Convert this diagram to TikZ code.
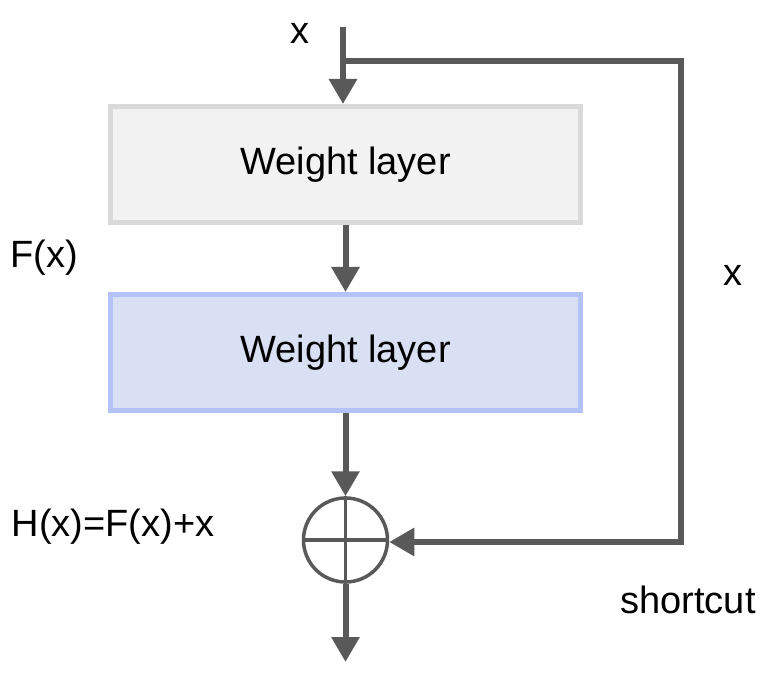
\documentclass[tikz,border=0pt]{standalone}
\usepackage{fontspec}
\setmainfont{Liberation Sans}
\usetikzlibrary{arrows.meta}
\definecolor{linegray}{HTML}{595959}
\definecolor{box1fill}{HTML}{F2F2F2}
\definecolor{box1line}{HTML}{D9D9D9}
\definecolor{box2fill}{HTML}{DAE0F3}
\definecolor{box2line}{HTML}{B4C2FA}
\tikzset{
  layerbox/.style={rectangle, line width=5pt, minimum width=470pt, minimum height=116pt, inner sep=0pt, font=\fontsize{38}{40}\selectfont},
  lbl/.style={inner sep=0pt, font=\fontsize{38}{40}\selectfont, text=black},
  conn/.style={draw=linegray, line width=6pt, -{Triangle[length=25pt,width=27pt]}},
  plainconn/.style={draw=linegray, line width=6pt},
}
\begin{document}
\begin{tikzpicture}[x=1pt,y=-1pt]
\useasboundingbox (0,0) rectangle (772,674);
\node[layerbox, fill=box1fill, draw=box1line] (w1) at (345.5,164.5) {Weight layer};
\node[layerbox, fill=box2fill, draw=box2line] (w2) at (345.5,352.5) {Weight layer};
\node[circle, draw=linegray, line width=3.5pt, minimum size=84pt, inner sep=0pt] (sum) at (345.5,540) {};
\draw[linegray, line width=3.5pt] (sum.north) -- (sum.south) (sum.west) -- (sum.east);
\coordinate (in) at (343,27);
\coordinate (br) at (343,61);
\coordinate (c1) at (681,61);
\coordinate (c2) at (681,542);
\coordinate (out) at (345.5,662);
\draw[conn] (in) -- (in |- w1.north);
\draw[plainconn] (br) -- (c1) -- (c2) -- ([xshift=50pt]sum.east |- c2);
\draw[conn] (c2) -- (sum.east |- c2);
\draw[conn] (w1.south) -- (w2.north);
\draw[conn] (w2.south) -- (sum.north);
\draw[conn] (sum.south) -- (out);
\node[lbl] (xin) at (300,33) {x};
\node[lbl] (fx) at (44,258) {F(x)};
\node[lbl] (xr) at (733,275) {x};
\node[lbl] (hx) at (113,527) {H(x)=F(x)+x};
\node[lbl] (sc) at (688,600) {shortcut};
\end{tikzpicture}
\end{document}
